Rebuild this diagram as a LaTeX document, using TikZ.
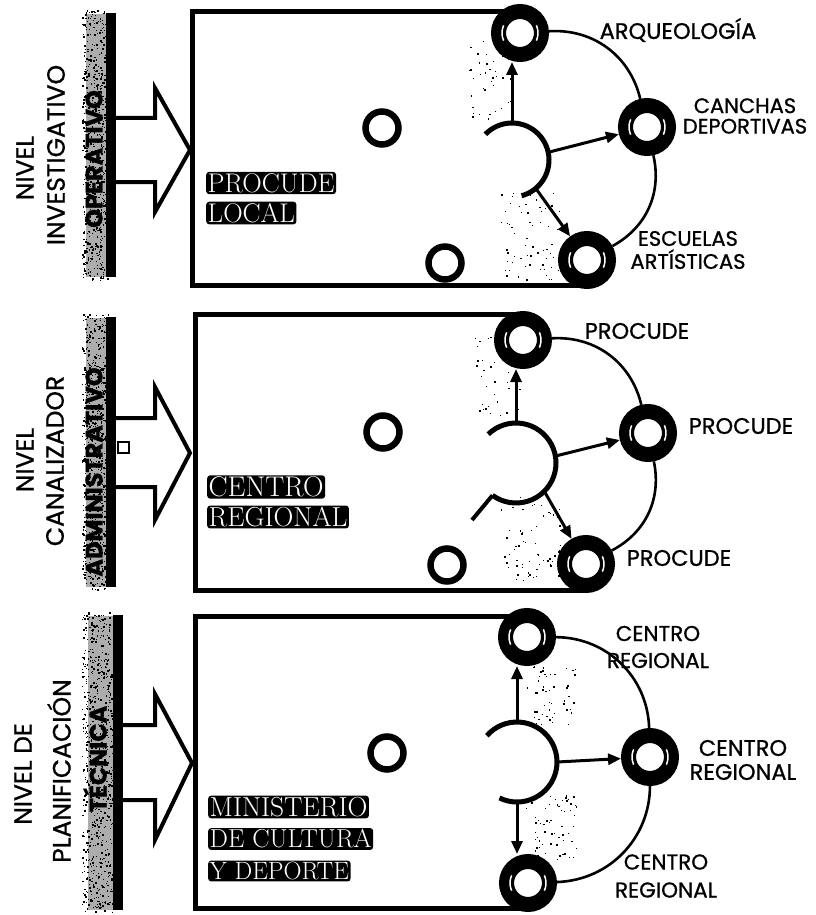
\documentclass[tikz,border=0pt]{standalone}
\usepackage{fontspec}
\newfontfamily\pop{Poppins}[FakeBold=0.9]
\usetikzlibrary{arrows.meta}
\newcommand\rmarks[2]{%
  \draw[white,line width=1.5pt] plot[domain=155:205,samples=8] ({#1+18*cos(\x)},{#2+18*sin(\x)});
  \draw[white,line width=1.5pt] plot[domain=-25:25,samples=8] ({#1+18*cos(\x)},{#2+18*sin(\x)});}
% grain: x-left, width, y-top, height, count
\newcommand\grain[5]{%
  \foreach \k in {1,...,#5}{%
    \pgfmathsetmacro\gx{#1+#2*rnd}\pgfmathsetmacro\gy{#3+#4*rnd}\pgfmathsetmacro\gs{0.6+1.4*rnd}%
    \fill (\gx,\gy) rectangle ++(\gs,\gs);}}
\begin{document}
\begin{tikzpicture}[x=1pt,y=-1pt,
  ring/.style={circle,draw=black,line width=15pt,fill=white,minimum size=43pt,inner sep=0pt},
  smallring/.style={circle,draw=black,line width=6.5pt,minimum size=33pt,inner sep=0pt},
  boxline/.style={line width=5pt},
  rim/.style={line width=2.6pt},
  hubline/.style={line width=5pt},
  flow/.style={line width=3pt,-{Triangle[length=13pt,width=11pt]}},
  lab/.style={font=\pop\fontsize{22.5}{24}\selectfont,align=center,inner sep=0pt},
  lev/.style={font=\pop\fontsize{25}{25}\selectfont,rotate=90,inner sep=0pt},
  levb/.style={font=\pop\bfseries\fontsize{24}{24}\selectfont,rotate=90,inner sep=0pt},
  inv/.style={fill=black,text=white,inner sep=1.5pt,rounded corners=3pt,anchor=west},
  bigarrow/.style={line width=4pt,miter limit=10},
  noise/.style={fill=black!32},
]
\useasboundingbox (0,0) rectangle (815,915);
\pgfmathsetseed{4711}

% ================= PANEL 1 =================
\fill[noise] (86,14) rectangle (108,277);
\grain{82}{26}{10}{270}{650}
\fill (106,13) rectangle (116,277);
\draw[bigarrow] (116,118) -- (155,118) -- (155,88) -- (190,150) -- (155,212) -- (155,182) -- (116,182);
\node[lev] (l1a) at (25,168) {NIVEL};
\node[lev] (l1b) at (56,155) {INVESTIGATIVO};
\node[levb] (l1c) at (94,159) {OPERATIVO};

\draw[boxline] (520,12) -- (192,12) -- (192,285) -- (587,285);
\grain{468}{45}{25}{95}{45}
\grain{500}{60}{190}{90}{60}
\node[smallring] (s1a) at (382,128) {};
\node[smallring] (s1b) at (445,263) {};
\node[ring] (c1t) at (520,33) {};
\node[ring] (c1m) at (647,127) {};
\node[ring] (c1b) at (587,260) {};
\rmarks{520}{33}\rmarks{647}{127}\rmarks{587}{260}
\draw[rim] (c1t) to[bend left=40] (c1m);
\draw[rim] (c1m) to[bend left=37] (c1b);
\draw[hubline] plot[domain=-136:75,samples=40] ({512+37*cos(\x)},{160+37*sin(\x)});
\coordinate (h1t) at (512,123);
\coordinate (h1r) at ({512+37*cos(-12)},{160+37*sin(-12)});
\coordinate (h1b) at ({512+37*cos(50)},{160+37*sin(50)});
\draw[flow] (h1t) -- (h1t |- c1t.south);
\draw[flow] (h1r) -- (c1m);
\draw[flow] (h1b) -- (c1b);
\node[inv,font=\fontsize{27}{27}\selectfont] (t1a) at (206,183) {PROCUDE};
\node[inv,font=\fontsize{27}{27}\selectfont] (t1b) at (206,213) {LOCAL};
\node[lab] (r1a) at (678,30) {ARQUEOLOGÍA};
\node[lab,font=\pop\fontsize{21}{20.5}\selectfont] (r1b) at (745,116) {CANCHAS\\DEPORTIVAS};
\node[lab,font=\pop\fontsize{21}{23}\selectfont] (r1c) at (688,250) {ESCUELAS\\ARTÍSTICAS};

% ================= PANEL 2 =================
\fill[noise] (86,318) rectangle (108,587);
\grain{82}{26}{314}{276}{650}
\fill (106,317) rectangle (116,587);
\draw[bigarrow] (116,418) -- (155,418) -- (155,387) -- (190,453) -- (155,520) -- (155,487) -- (116,487);
\draw[line width=2.5pt,fill=white] (118,442) rectangle (129,453);
\node[lev] (l2a) at (25,460) {NIVEL};
\node[lev] (l2b) at (55,461) {CANALIZADOR};
\node[levb] (l2c) at (94,472) {ADMINISTRATIVO};

\draw[boxline] (523,314) -- (195,314) -- (195,590) -- (586,590);
\grain{475}{45}{335}{80}{40}
\grain{500}{60}{495}{85}{60}
\node[smallring] (s2a) at (383,432) {};
\node[smallring] (s2b) at (447,565) {};
\node[ring] (c2t) at (523,340) {};
\node[ring] (c2m) at (648,433) {};
\node[ring] (c2b) at (586,564) {};
\rmarks{523}{340}\rmarks{648}{433}\rmarks{586}{564}
\draw[rim] (c2t) to[bend left=40] (c2m);
\draw[rim] (c2m) to[bend left=37] (c2b);
\draw[hubline] plot[domain=-134:126,samples=40] ({516+40*cos(\x)},{463+40*sin(\x)});
\coordinate (h2t) at (516,423);
\coordinate (h2r) at ({516+40*cos(-10)},{463+40*sin(-10)});
\coordinate (h2b) at ({516+40*cos(45)},{463+40*sin(45)});
\coordinate (h2e) at ({516+40*cos(126)},{463+40*sin(126)});
\coordinate (h2s) at (472,520);
\draw[flow] (h2t) -- (h2t |- c2t.south);
\draw[flow] (h2r) -- (c2m);
\draw[flow] (h2b) -- (c2b);
\draw[line width=4pt] (h2e) -- (h2s);
\node[inv,font=\fontsize{28.5}{28.5}\selectfont] (t2a) at (207,487) {CENTRO};
\node[inv,font=\fontsize{27.5}{27.5}\selectfont] (t2b) at (207,517) {REGIONAL};
\node[lab] (r2a) at (637,331) {PROCUDE};
\node[lab] (r2b) at (741,426) {PROCUDE};
\node[lab] (r2c) at (679,558) {PROCUDE};

% ================= PANEL 3 =================
\fill[noise] (88,616) rectangle (114,910);
\grain{82}{32}{612}{300}{700}
\fill (113,615) rectangle (123,910);
\draw[bigarrow] (123,725) -- (155,725) -- (155,694) -- (192,763) -- (155,840) -- (155,800) -- (123,800);
\node[lev] (l3a) at (23,774) {NIVEL DE};
\node[lev] (l3b) at (59,771) {PLANIFICACIÓN};
\node[levb] (l3c) at (95,759) {TÉCNICA};

\draw[boxline] (527,616) -- (195,616) -- (195,908) -- (528,908);
\grain{525}{50}{665}{60}{50}
\grain{525}{55}{795}{65}{60}
\node[smallring] (s3a) at (387,753) {};
\node[ring] (c3t) at (527,637) {};
\node[ring] (c3m) at (650,757) {};
\node[ring] (c3b) at (528,883) {};
\rmarks{527}{637}\rmarks{650}{757}\rmarks{528}{883}
\draw[rim] (c3t) to[bend left=44] (c3m);
\draw[rim] (c3m) to[bend left=44] (c3b);
\draw[hubline] plot[domain=-139:116,samples=40] ({517+40*cos(\x)},{762+40*sin(\x)});
\coordinate (h3t) at (517,722);
\coordinate (h3r) at (557,762);
\coordinate (h3b) at (517,802);
\draw[flow] (h3t) -- (h3t |- c3t.south);
\draw[flow] (h3r) -- (c3m);
\draw[flow] (h3b) -- (h3b |- c3b.north);
\node[inv,font=\fontsize{27.5}{27.5}\selectfont] (t3a) at (208,807) {MINISTERIO};
\node[inv,font=\fontsize{26}{26}\selectfont] (t3b) at (208,839) {DE CULTURA};
\node[inv,font=\fontsize{25}{25}\selectfont] (t3c) at (208,871) {Y DEPORTE};
\node[lab,font=\pop\fontsize{21.5}{27}\selectfont] (r3a) at (658,647) {CENTRO\\REGIONAL};
\node[lab,font=\pop\fontsize{22.5}{24}\selectfont] (r3b) at (743,760) {CENTRO\\REGIONAL};
\node[lab,font=\pop\fontsize{21.5}{28}\selectfont] (r3c) at (666,876) {CENTRO\\REGIONAL};
\end{tikzpicture}
\end{document}
